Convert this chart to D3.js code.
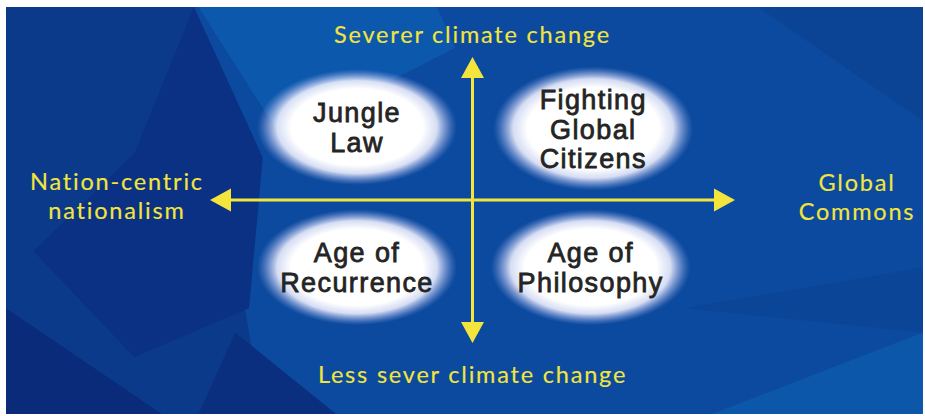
<!DOCTYPE html>
<html>
<head>
<meta charset="utf-8">
<script src="https://cdn.jsdelivr.net/npm/d3@7/dist/d3.min.js"></script>
<style>
  html, body { margin: 0; padding: 0; background: #fff; }
  svg { display: block; }
</style>
</head>
<body>
<div id="wrapper"></div>
<script>
// quadrant scenarios: position on the two axes (-1..1) and label lines
const quadrantNames = [["Jungle", "Law"], ["Fighting", "Global", "Citizens"], ["Age of", "Recurrence"], ["Age of", "Philosophy"]];
const quadrantX = [-0.44, 0.46, -0.44, 0.45];
const quadrantY = [0.51, 0.5, -0.47, -0.47];

// axis end labels
const axisTop = ["Severer climate change"];
const axisBottom = ["Less sever climate change"];
const axisLeft = ["Nation-centric", "nationalism"];
const axisRight = ["Global", "Commons"];

// background facets (fractions of the panel)
const facetColors = ["#0c3a8b", "#0a3183", "#0a2b79", "#0b2f7f", "#0c58ad", "#0b4494", "#0b4597", "#0d57ab"];
const facetPoints = [
  [[0, 0], [0.205, 0], [0.28, 1], [0, 1]],
  [[0.205, 0], [0.28, 0.37], [0.265, 0.74], [0.14, 0.86], [0.03, 0.6], [0.14, 0.36]],
  [[0, 0.74], [0.17, 1], [0, 1]],
  [[0.25, 0.8], [0.36, 1], [0.21, 1]],
  [[0.21, 0], [0.47, 0], [0.49, 0.1], [0.3, 0.32]],
  [[0.82, 0], [1, 0], [1, 0.28]],
  [[0.74, 0.74], [1, 0.64], [1, 0.8]],
  [[0.77, 1], [1, 0.8], [1, 1]]
];

const drawDiagram = () => {
  const dimensions = {
    width: 925,
    height: 416,
    panel: { left: 6, top: 7, right: 923, bottom: 414 },
  };
  const panelW = dimensions.panel.right - dimensions.panel.left;
  const panelH = dimensions.panel.bottom - dimensions.panel.top;

  const svg = d3
    .select("#wrapper")
    .append("svg")
    .attr("width", dimensions.width)
    .attr("height", dimensions.height);

  const defs = svg.append("defs");
  const grad = defs
    .append("radialGradient")
    .attr("id", "glow")
    .attr("cx", "50%")
    .attr("cy", "50%")
    .attr("r", "50%");
  [
    [0, "#ffffff", 1],
    [0.66, "#ffffff", 1],
    [0.8, "#f2f2ff", 0.88],
    [0.9, "#c8ccf4", 0.45],
    [1, "#8ea0e6", 0],
  ].forEach(([o, c, a]) =>
    grad.append("stop").attr("offset", o).attr("stop-color", c).attr("stop-opacity", a)
  );

  // background panel
  const bg = svg.append("g").attr("transform", `translate(${dimensions.panel.left},${dimensions.panel.top})`);
  bg.append("rect").attr("width", panelW).attr("height", panelH).attr("fill", "#0b4a9e");
  const fx = d3.scaleLinear().domain([0, 1]).range([0, panelW]);
  const fy = d3.scaleLinear().domain([0, 1]).range([0, panelH]);
  bg.selectAll("polygon")
    .data(facetPoints)
    .join("polygon")
    .attr("points", (d) => d.map((p) => `${fx(p[0])},${fy(p[1])}`).join(" "))
    .attr("fill", (d, i) => facetColors[i]);

  const xScale = d3.scaleLinear().domain([-1, 1]).range([210, 735]);
  const yScale = d3.scaleLinear().domain([-1, 1]).range([343, 57]);

  // glows + labels
  const quads = svg
    .selectAll(".quad")
    .data(quadrantNames)
    .join("g")
    .attr("class", "quad")
    .attr("transform", (d, i) => `translate(${xScale(quadrantX[i])},${yScale(quadrantY[i])})`);

  quads
    .append("ellipse")
    .attr("rx", 100)
    .attr("ry", (d) => (d.length === 3 ? 62 : 58))
    .attr("fill", "url(#glow)");

  const lh = 29.5;
  quads
    .append("text")
    .attr("text-anchor", "middle")
    .style("font-family", "'Liberation Sans', Arial, sans-serif")
    .style("font-size", "27px")
    .style("letter-spacing", "1.4px")
    .style("fill", "#242424")
    .style("stroke", "#242424")
    .style("stroke-width", "0.8px")
    .each(function (lines) {
      const t = d3.select(this);
      const off = -((lines.length - 1) * lh) / 2 + 10;
      lines.forEach((s, j) => {
        t.append("tspan").attr("x", 0).attr("y", off + j * lh).text(s);
      });
    });

  // axes with arrowheads
  const yellow = "#f3e53c";
  const axes = svg.append("g");
  axes.append("line")
    .attr("x1", xScale(-1) + 18).attr("x2", xScale(1) - 18)
    .attr("y1", yScale(0)).attr("y2", yScale(0))
    .attr("stroke", yellow).attr("stroke-width", 3);
  axes.append("line")
    .attr("x1", xScale(0)).attr("x2", xScale(0))
    .attr("y1", yScale(1) + 18).attr("y2", yScale(-1) - 18)
    .attr("stroke", yellow).attr("stroke-width", 3);

  const head = (tipX, tipY, dx, dy) => {
    // dx,dy: unit direction of the arrow
    const len = 21, half = 11.5;
    const bx = tipX - dx * len, by = tipY - dy * len;
    return `M${tipX},${tipY}L${bx - dy * half},${by + dx * half}L${bx + dy * half},${by - dx * half}Z`;
  };
  axes.append("path").attr("d", head(xScale(-1), yScale(0), -1, 0)).attr("fill", yellow);
  axes.append("path").attr("d", head(xScale(1), yScale(0), 1, 0)).attr("fill", yellow);
  axes.append("path").attr("d", head(xScale(0), yScale(1), 0, -1)).attr("fill", yellow);
  axes.append("path").attr("d", head(xScale(0), yScale(-1), 0, 1)).attr("fill", yellow);

  const axisLabel = (lines, cx, firstBaseline) => {
    const t = svg.append("text")
      .attr("text-anchor", "middle")
      .style("font-family", "Lato, 'Open Sans', sans-serif")
      .style("font-size", "23.5px")
      .style("letter-spacing", "1.8px")
      .style("fill", yellow)
      .style("stroke", yellow)
      .style("stroke-width", "0.15px");
    lines.forEach((s, j) => {
      t.append("tspan").attr("x", cx).attr("y", firstBaseline + j * 28.5).text(s);
    });
  };
  axisLabel(axisTop, xScale(0), yScale(1) - 14);
  axisLabel(axisBottom, xScale(0), yScale(-1) + 40);
  axisLabel(axisLeft, xScale(-1) - 93, yScale(0) - 10);
  axisLabel(axisRight, xScale(1) + 122, yScale(0) - 9);
};

drawDiagram();
</script>
</body>
</html>
